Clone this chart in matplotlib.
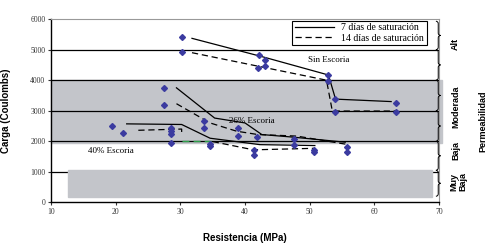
import numpy as np
import matplotlib
matplotlib.use("Agg")
import matplotlib.pyplot as plt
from matplotlib.path import Path
from matplotlib.patches import PathPatch, Rectangle
from matplotlib.lines import Line2D
import matplotlib.transforms as mtransforms

# measured points (resistance MPa, charge Coulombs)
sin_x = [30.3, 30.3, 42.1, 43.1, 42.0, 43.1, 52.9, 52.9, 53.9, 53.9, 63.4, 63.4]
sin_y = [5410, 4930, 4820, 4660, 4410, 4460, 4160, 3960, 3370, 2950, 3260, 2960]
e26_x = [27.4, 27.4, 33.7, 33.7, 38.9, 38.9, 41.8, 47.6, 47.6, 55.7, 55.7]
e26_y = [3750, 3190, 2680, 2430, 2430, 2180, 2130, 2060, 1890, 1820, 1660]
e40_x = [19.5, 21.1, 28.5, 28.5, 28.5, 28.5, 34.6, 34.6, 41.4, 41.4, 50.7, 50.7]
e40_y = [2510, 2270, 2430, 2330, 2250, 1940, 1910, 1830, 1710, 1560, 1710, 1650]

# trend lines, 7 days (solid) and 14 days (dashed)
sin7_x = [31.8, 43.0, 52.9, 54.0, 62.6]
sin7_y = [5370, 4750, 4170, 3380, 3300]
sin14_x = [31.8, 52.6, 53.5, 63.4]
sin14_y = [4900, 4000, 2990, 2990]
e26_7_x = [29.4, 35.3, 40.0, 42.6, 47.2, 55.5]
e26_7_y = [3750, 2760, 2600, 2220, 2140, 1970]
e26_14_x = [29.4, 34.6, 38.7, 42.0, 48.0, 55.7]
e26_14_y = [3230, 2600, 2330, 2220, 2170, 1900]
e40_7_x = [21.7, 30.2, 34.6, 42.3, 50.8]
e40_7_y = [2570, 2550, 2100, 1890, 1860]
e40_14a_x = [23.5, 30.2, 30.2]
e40_14a_y = [2360, 2400, 2210]
e40_14g_x = [30.2, 35.0]
e40_14g_y = [2020, 2020]
e40_14b_x = [35.0, 41.3, 50.8]
e40_14b_y = [1990, 1720, 1770]

gridlines = [1000, 2000, 3000, 4000, 5000]
brace_spans = [(5000, 5930), (4000, 5000), (3000, 4000), (2000, 3000), (1050, 2000), (200, 1050)]
zones = [("Alt", 5180), ("Moderada", 3130), ("Baja", 1700)]

serif = "Liberation Serif"
sans = "Liberation Sans"
grey = "#C3C5CA"
blue = "#3B3BA0"

fig = plt.figure(figsize=(4.92, 2.48), dpi=100)
ax = fig.add_axes([0.1037, 0.184, 0.7886, 0.739])
ax.set_xlim(10, 70)
ax.set_ylim(0, 6000)

# permeability bands
ax.axhspan(1930, 4000, xmin=0, xmax=1.008, color=grey, zorder=0, clip_on=False)
ax.add_patch(Rectangle((12.6, 170), 56.3, 880, color=grey, zorder=2))
for g in gridlines:
    ax.axhline(g, color="black", lw=0.9, zorder=1)

# trend lines
ax.plot(sin7_x, sin7_y, color="black", lw=0.9, zorder=3)
ax.plot(sin14_x, sin14_y, color="black", lw=0.9, ls=(0, (5, 3)), zorder=3)
ax.plot(e26_7_x, e26_7_y, color="black", lw=0.9, zorder=3)
ax.plot(e26_14_x, e26_14_y, color="black", lw=0.9, ls=(0, (5, 3)), zorder=3)
ax.plot(e40_7_x, e40_7_y, color="black", lw=0.9, zorder=3)
ax.plot(e40_14a_x, e40_14a_y, color="black", lw=0.9, ls=(0, (5, 3)), zorder=3)
ax.plot(e40_14g_x, e40_14g_y, color="#2E9E4A", lw=1.0, ls=(0, (5, 3)), zorder=3)
ax.plot(e40_14b_x, e40_14b_y, color="black", lw=0.9, ls=(0, (5, 3)), zorder=3)

# data points
for xs, ys in [(sin_x, sin_y), (e26_x, e26_y), (e40_x, e40_y)]:
    ax.plot(xs, ys, ls="none", marker="D", ms=3.0, color=blue, zorder=4)

ax.text(53, 4650, "Sin Escoria", fontsize=6.5, family=serif, ha="center", va="center")
ax.text(41.1, 2670, "26% Escoria", fontsize=6.5, family=serif, ha="center", va="center")
ax.text(19.3, 1690, "40% Escoria", fontsize=6.5, family=serif, ha="center", va="center")

handles = [Line2D([], [], color="black", lw=0.9),
           Line2D([], [], color="black", lw=0.9, ls=(0, (5, 3)))]
leg = ax.legend(handles, ["7 días de saturación", "14 días de saturación"],
                loc="upper left", bbox_to_anchor=(0.622, 0.99), frameon=True,
                fancybox=False, framealpha=1, edgecolor="black",
                prop={"family": serif, "size": 7}, handlelength=4.0,
                borderpad=0.25, labelspacing=0.15, handletextpad=0.8,
                borderaxespad=0)
leg.get_frame().set_linewidth(0.8)
leg.set_zorder(5)

# braces on the right edge
trans = mtransforms.blended_transform_factory(ax.transAxes, ax.transData)
def brace(y0, y1, x=0.992, w=0.012, d=80):
    ym = (y0 + y1) / 2
    xm = x + w / 2
    verts = [(x, y1), (xm, y1), (xm, y1 - d),
             (xm, ym + d), (xm, ym), (x + w, ym),
             (xm, ym), (xm, ym - d),
             (xm, y0 + d), (xm, y0), (x, y0)]
    codes = [Path.MOVETO, Path.CURVE3, Path.CURVE3,
             Path.LINETO, Path.CURVE3, Path.CURVE3,
             Path.CURVE3, Path.CURVE3,
             Path.LINETO, Path.CURVE3, Path.CURVE3]
    ax.add_patch(PathPatch(Path(verts, codes), fc="none", ec="black", lw=0.7,
                           transform=trans, clip_on=False, zorder=6))

for y0, y1 in brace_spans:
    brace(y0, y1)

for name, yc in zones:
    ax.text(1.043, yc, name, transform=trans, rotation=90, fontsize=6.5,
            family=sans, fontweight="bold", ha="center", va="center")
ax.text(1.05, 670, "Muy\nBaja", transform=trans, rotation=90, fontsize=6.5,
        family=sans, fontweight="bold", ha="center", va="center", linespacing=1.0)
ax.text(1.113, 2660, "Permeabilidad", transform=trans, rotation=90, fontsize=6.5,
        family=sans, fontweight="bold", ha="center", va="center")

ax.set_xticks(np.arange(10, 71, 10))
ax.set_yticks(np.arange(0, 6001, 1000))
ax.tick_params(labelsize=5.5, length=2, width=0.8, pad=2, colors="#333333")
for lab in ax.get_xticklabels() + ax.get_yticklabels():
    lab.set_family(serif)
ax.spines["left"].set_linewidth(1.0)
ax.spines["bottom"].set_linewidth(1.0)
ax.spines["top"].set_color("#999999")
ax.spines["right"].set_color("#999999")
ax.spines["top"].set_linewidth(0.8)
ax.spines["right"].set_linewidth(0.8)

ax.set_xlabel("Resistencia (MPa)", fontsize=7, family=sans, fontweight="bold", labelpad=12)
ax.set_ylabel("Carga (Coulombs)", fontsize=7, family=sans, fontweight="bold", labelpad=14)

fig.savefig("out.png", dpi=100)
